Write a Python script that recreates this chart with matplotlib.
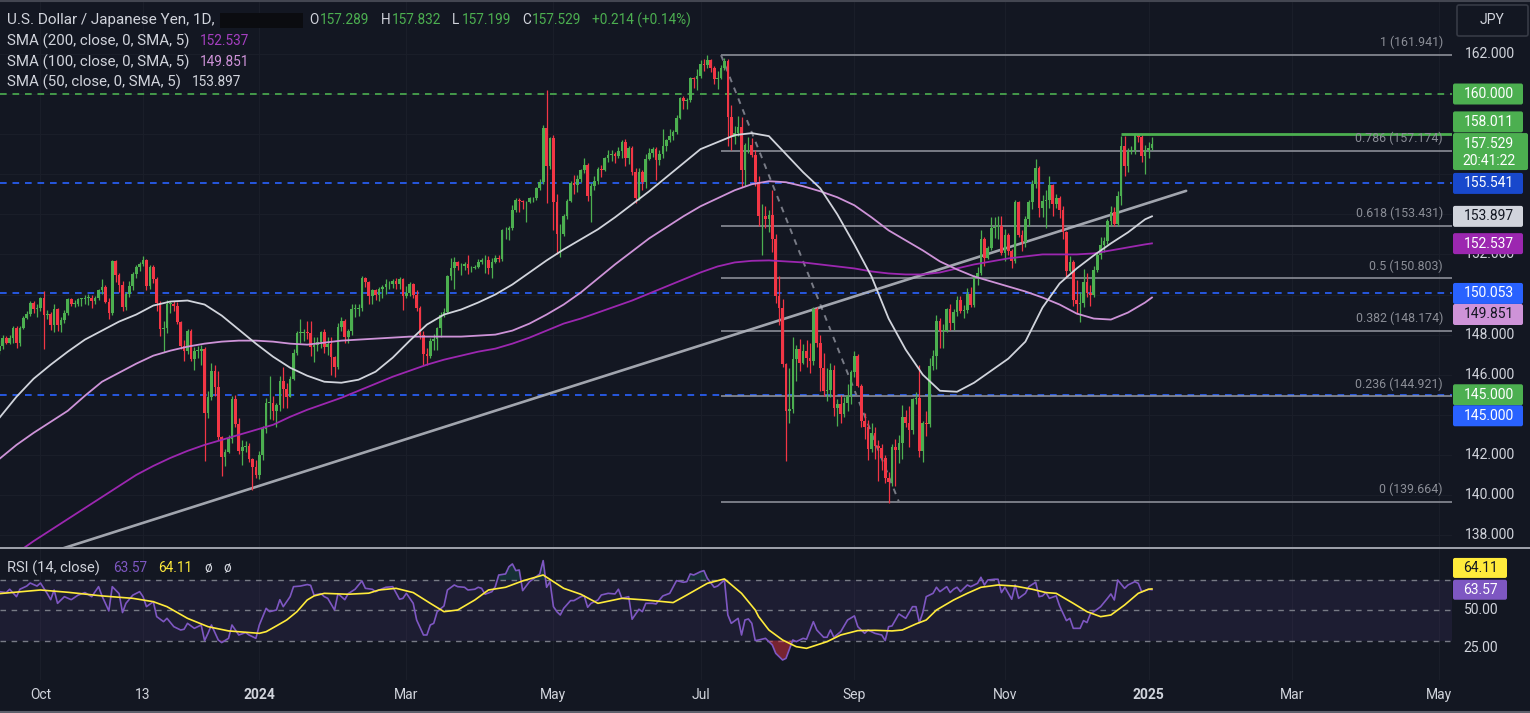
import numpy as np
import pandas as pd
import matplotlib
matplotlib.use("Agg")
import matplotlib.pyplot as plt
from matplotlib.patches import FancyBboxPatch, Rectangle
from matplotlib.transforms import IdentityTransform
from matplotlib.lines import Line2D

plt.rcParams['font.family'] = ['Roboto', 'DejaVu Sans']

W, H = 1530, 713
BG = '#131722'
UP = '#4caf50'
DN = '#f23645'
TXT = '#d1d4dc'

# ---------------- data (USD/JPY daily, 2023-09-14 .. 2025-01-03) ----------------
first_open = 147.20
closes = [
    147.45, 147.85,
    147.60, 147.85, 148.35, 147.60, 148.35,
    148.85, 149.05, 149.60, 149.30, 149.35,
    149.85, 149.00, 149.05, 148.50, 149.30,
    148.50, 148.75, 149.10, 149.80, 149.55,
    149.55, 149.80, 149.80, 149.85, 149.85,
    149.70, 149.85, 150.20, 150.35, 149.65,
    149.10, 151.65, 150.95, 150.45, 149.40,
    150.05, 150.40, 151.00, 151.35, 151.50,
    151.70, 150.40, 151.35, 150.75, 149.60,
    148.30, 148.35, 149.55, 149.55, 149.45,
    148.65, 147.45, 147.20, 148.20, 146.80,
    147.20, 147.20, 147.30, 144.10, 144.90,
    146.20, 145.40, 142.90, 141.90, 142.15,
    142.80, 144.80, 143.55, 142.20, 142.40,
    142.45, 141.80, 141.40, 141.00,
    142.00, 143.30, 144.60, 144.60,
    144.20, 144.50, 145.70, 145.30, 144.90,
    145.80, 147.10, 148.10, 148.10, 148.15,
    148.10, 147.40, 147.50, 147.65, 148.15,
    147.40, 147.55, 146.90, 146.40, 148.40,
    148.70, 147.90, 148.20, 149.30, 149.30,
    149.35, 150.80, 150.60, 149.95, 150.20,
    150.00, 150.25, 150.35, 150.50, 150.50,
    150.65, 150.50, 150.75, 149.95, 150.10,
    150.50, 150.00, 149.35, 148.00, 147.05,
    146.95, 147.70, 147.80, 148.35, 149.00,
    149.15, 150.90, 151.30, 151.60, 151.40,
    151.40, 151.50, 151.30, 151.30, 151.35,
    151.60, 151.70, 151.70, 151.30, 151.60,
    151.80, 151.75, 153.20, 153.20, 153.30,
    154.20, 154.70, 154.65, 154.60, 154.60,
    154.80, 154.80, 155.30, 155.60, 158.30,
    156.40, 157.80, 154.60, 153.00, 153.00,
    153.90, 154.65, 155.55, 155.45, 155.75,
    156.20, 156.45, 154.90, 155.40, 155.65,
    156.25, 156.20, 156.80, 156.95, 157.00,
    156.90, 157.15, 157.60, 156.80, 157.30,
    156.10, 154.80, 156.10, 155.60, 156.75,
    157.05, 157.25, 156.70, 157.00, 157.40,
    157.70, 157.90, 158.10, 158.80, 159.80,
    159.65, 159.70, 160.80, 160.75, 160.90,
    161.50, 161.45, 161.70, 161.30, 160.75,
    160.80, 161.30, 161.65, 158.85, 157.85,
    158.05, 158.35, 156.20, 157.45, 157.45,
    156.95, 155.60, 153.90, 153.90, 153.75,
    153.95, 152.75, 149.95, 149.35, 146.55,
    144.20, 144.30, 146.80, 147.30, 146.60,
    147.20, 146.85, 146.70, 149.30, 147.60,
    146.35, 145.20, 145.25, 146.25, 144.35,
    144.55, 144.05, 144.60, 144.95, 146.15,
    146.95, 145.45, 143.70, 143.40, 142.30,
    143.10, 142.45, 142.35, 141.85, 140.85,
    140.65, 142.40, 142.25, 142.60, 143.90,
    143.60, 143.25, 144.80, 144.85, 142.20,
    143.60, 143.55, 146.45, 146.95, 148.70,
    148.20, 148.20, 149.30, 148.60, 149.15,
    149.75, 149.20, 149.25, 150.05, 149.50,
    150.85, 151.05, 152.75, 151.80, 152.30,
    153.30, 153.35, 153.40, 152.05, 152.95,
    152.15, 151.65, 154.60, 152.95, 152.60,
    153.75, 154.60, 155.50, 156.30, 154.30,
    154.65, 154.70, 155.45, 154.50, 154.80,
    154.20, 153.10, 151.15, 151.60, 149.75,
    149.55, 149.60, 150.60, 150.10, 150.00,
    151.20, 151.95, 152.45, 152.65, 153.65,
    154.10, 153.50, 154.90, 157.40, 156.40,
    157.15, 157.20, 157.95, 157.85,
    156.90, 157.20, 157.315, 157.529,
]
highs = [
    147.75, 148.00,
    147.95, 148.00, 148.45, 148.45, 148.45,
    148.95, 149.20, 149.70, 149.70, 149.55,
    149.90, 150.16, 149.25, 149.15, 149.55,
    149.35, 148.90, 149.25, 149.85, 149.85,
    149.75, 149.85, 149.85, 150.00, 150.05,
    150.00, 149.95, 150.25, 150.75, 150.45,
    149.85, 151.70, 151.70, 151.05, 150.65,
    150.15, 150.65, 151.10, 151.45, 151.60,
    151.90, 151.75, 151.45, 151.45, 150.85,
    149.70, 148.70, 149.75, 149.70, 149.70,
    149.65, 148.70, 147.75, 148.30, 148.30,
    147.40, 147.45, 147.50, 147.40, 145.20,
    146.60, 146.50, 146.20, 142.95, 142.30,
    143.00, 144.95, 145.00, 143.85, 142.75,
    142.70, 142.60, 141.85, 141.75,
    142.20, 143.45, 144.85, 145.95,
    144.95, 144.60, 145.95, 146.40, 145.60,
    145.95, 147.30, 148.20, 148.80, 148.30,
    148.70, 148.70, 147.90, 147.90, 148.20,
    148.30, 147.90, 147.90, 146.95, 148.60,
    148.90, 148.80, 148.30, 149.55, 149.55,
    149.55, 150.90, 150.85, 150.65, 150.25,
    150.25, 150.35, 150.45, 150.75, 150.65,
    150.75, 150.80, 150.85, 150.80, 150.40,
    150.60, 150.55, 150.20, 149.45, 148.20,
    147.35, 147.85, 148.05, 148.40, 149.15,
    149.35, 150.95, 151.80, 151.85, 151.65,
    151.55, 151.60, 151.95, 151.40, 151.45,
    151.75, 151.80, 151.95, 151.90, 151.80,
    151.95, 151.95, 153.25, 153.35, 153.40,
    154.45, 154.80, 154.80, 154.70, 154.65,
    154.85, 154.85, 155.35, 155.75, 158.45,
    160.20, 157.85, 157.95, 155.00, 153.50,
    154.00, 154.75, 155.65, 155.95, 155.95,
    156.25, 156.80, 156.55, 155.55, 155.90,
    156.35, 156.45, 156.85, 157.20, 157.20,
    157.10, 157.35, 157.70, 157.75, 157.40,
    157.40, 156.30, 156.30, 156.20, 157.00,
    157.30, 157.35, 157.35, 157.20, 158.25,
    157.75, 158.25, 158.20, 158.95, 159.85,
    159.90, 159.80, 160.85, 160.85, 161.25,
    161.70, 161.75, 161.95, 161.75, 161.40,
    161.15, 161.45, 161.80, 161.75, 159.45,
    158.40, 158.90, 158.85, 157.55, 157.85,
    157.80, 157.20, 155.90, 154.50, 154.40,
    154.20, 155.20, 153.00, 150.90, 149.80,
    146.60, 146.35, 147.90, 147.50, 147.80,
    147.55, 147.75, 147.60, 149.40, 149.40,
    148.00, 147.10, 146.35, 146.60, 146.50,
    144.80, 145.00, 144.90, 145.55, 146.25,
    147.20, 147.05, 145.55, 144.10, 143.75,
    143.60, 143.40, 142.75, 142.55, 142.00,
    141.15, 142.55, 142.80, 143.00, 144.50,
    144.25, 144.45, 144.85, 145.15, 146.50,
    143.70, 144.20, 146.85, 147.25, 149.00,
    148.85, 148.55, 149.35, 149.55, 149.30,
    149.95, 149.95, 149.50, 150.30, 150.35,
    150.95, 151.35, 153.20, 152.85, 152.40,
    153.85, 153.85, 153.90, 153.90, 153.25,
    153.05, 152.25, 154.70, 154.65, 153.20,
    153.90, 154.70, 155.70, 156.75, 156.40,
    154.95, 155.20, 155.90, 155.50, 155.00,
    154.90, 154.40, 153.15, 151.90, 151.70,
    150.70, 150.15, 151.25, 151.05, 150.45,
    151.40, 152.05, 152.85, 152.85, 153.75,
    154.40, 154.35, 155.15, 157.90, 157.90,
    157.30, 157.40, 158.08, 158.00,
    158.00, 157.45, 157.60, 157.832,
]
lows = [
    147.05, 147.30,
    147.55, 147.55, 147.60, 147.35, 147.45,
    148.30, 148.80, 148.95, 149.10, 148.90,
    149.20, 147.30, 148.80, 148.25, 148.15,
    148.20, 148.15, 148.60, 149.00, 149.45,
    149.40, 149.45, 149.45, 149.55, 149.50,
    149.35, 149.55, 149.75, 150.05, 149.60,
    148.80, 149.00, 150.60, 150.15, 149.20,
    149.25, 149.90, 150.20, 150.80, 151.15,
    151.40, 150.20, 150.25, 150.55, 149.20,
    147.95, 147.15, 148.10, 149.10, 149.20,
    148.55, 147.30, 146.70, 147.05, 146.70,
    146.25, 146.85, 146.50, 141.70, 143.85,
    144.75, 144.95, 142.75, 140.95, 141.45,
    142.10, 142.60, 143.40, 142.05, 141.50,
    142.15, 141.65, 140.25, 140.85,
    140.80, 141.75, 143.10, 143.80,
    143.75, 143.40, 144.20, 144.35, 144.35,
    144.90, 145.75, 147.00, 147.60, 147.70,
    147.80, 146.95, 146.65, 147.20, 147.35,
    147.10, 147.00, 146.00, 145.90, 146.30,
    148.20, 147.60, 147.60, 148.00, 148.90,
    148.95, 149.20, 150.35, 149.55, 149.55,
    149.75, 149.70, 149.85, 150.05, 150.25,
    150.30, 150.25, 150.25, 149.25, 149.85,
    149.95, 149.85, 149.20, 147.80, 146.50,
    146.50, 146.85, 147.25, 147.25, 147.90,
    148.90, 149.10, 150.70, 150.25, 151.20,
    150.95, 151.20, 151.00, 151.10, 151.25,
    151.30, 151.50, 151.05, 151.00, 150.80,
    151.55, 151.60, 151.65, 152.75, 152.70,
    153.20, 154.10, 154.10, 154.25, 153.60,
    154.55, 154.60, 154.70, 155.20, 155.50,
    154.55, 156.25, 153.20, 152.00, 151.86,
    152.90, 153.75, 154.60, 155.00, 155.10,
    155.60, 156.05, 154.65, 153.60, 155.20,
    155.50, 155.85, 156.15, 156.60, 156.65,
    156.55, 156.80, 156.80, 156.40, 156.50,
    155.95, 154.55, 154.70, 155.20, 155.30,
    156.70, 156.85, 155.70, 156.45, 156.80,
    157.15, 157.60, 157.70, 158.00, 158.75,
    159.25, 159.25, 159.60, 160.30, 160.20,
    160.80, 161.15, 161.30, 161.10, 160.50,
    160.25, 160.75, 161.20, 157.40, 157.20,
    157.50, 157.90, 155.35, 155.40, 157.05,
    156.85, 155.40, 153.40, 151.95, 153.30,
    153.10, 152.10, 149.60, 148.50, 146.40,
    141.70, 143.60, 144.10, 145.70, 146.20,
    146.55, 146.40, 146.10, 146.50, 147.40,
    145.20, 144.95, 144.70, 144.90, 143.95,
    143.45, 143.60, 143.90, 144.20, 144.55,
    145.90, 145.40, 143.40, 142.80, 141.75,
    142.15, 141.80, 140.70, 141.25, 140.60,
    139.58, 140.45, 140.45, 141.60, 141.80,
    143.40, 142.40, 143.05, 144.55, 141.90,
    141.65, 142.95, 143.40, 146.25, 146.30,
    147.35, 147.35, 148.15, 148.25, 148.25,
    148.95, 149.10, 148.85, 149.10, 149.40,
    149.40, 150.45, 150.95, 151.40, 151.75,
    152.20, 152.80, 152.75, 151.95, 151.65,
    151.95, 151.30, 151.55, 152.85, 152.15,
    152.35, 153.40, 154.25, 155.30, 153.85,
    153.85, 153.30, 154.30, 153.90, 154.30,
    153.80, 152.75, 150.80, 151.10, 149.45,
    149.05, 148.65, 149.40, 149.90, 149.45,
    149.90, 151.10, 151.75, 152.10, 152.50,
    153.40, 153.40, 153.40, 154.45, 155.90,
    156.10, 157.00, 157.00, 157.60,
    156.60, 156.00, 156.80, 157.199,
]

# moving averages, every 5 bars
sma_bar = [0, 5, 10, 15, 20, 25, 30, 35, 40, 45, 50, 55, 60, 65, 70, 75, 80, 85, 90, 95,
           100, 105, 110, 115, 120, 125, 130, 135, 140, 145, 150, 155, 160, 165, 170, 175,
           180, 185, 190, 195, 200, 205, 210, 215, 220, 225, 230, 235, 240, 245, 250, 255,
           260, 265, 270, 275, 280, 285, 290, 295, 300, 305, 310, 315, 320, 325, 330, 335,
           337]
sma50 = [143.85, 144.9, 145.8, 146.5, 147.15, 147.75, 148.2, 148.65, 149.0, 149.45,
         149.65, 149.7, 149.5, 148.95, 148.25, 147.55, 146.9, 146.35, 145.95, 145.65,
         145.6, 145.75, 146.15, 146.85, 147.7, 148.5, 149.0, 149.25, 149.6, 150.0,
         150.5, 151.1, 151.7, 152.25, 152.75, 153.25, 153.85, 154.5, 155.15, 155.85,
         156.55, 157.25, 157.6, 157.95, 158.05, 157.9, 157.0, 156.1, 155.3, 154.0,
         152.5, 150.9, 148.8, 147.25, 146.0, 145.2, 145.15, 145.6, 146.2, 146.8,
         147.65, 149.35, 150.55, 151.3, 151.95, 152.55, 153.1, 153.75,
         153.9]
sma100 = [141.8, 142.5, 143.1, 143.65, 144.2, 144.95, 145.65, 146.1, 146.55, 146.95,
          147.2, 147.4, 147.55, 147.65, 147.7, 147.7, 147.65, 147.55, 147.5, 147.6,
          147.7, 147.75, 147.8, 147.85, 147.9, 147.9, 147.9, 147.9, 147.95, 148.0,
          148.2, 148.55, 149.0, 149.5, 150.1, 150.8, 151.5, 152.15, 152.8, 153.35,
          153.9, 154.4, 154.8, 155.2, 155.5, 155.65, 155.6, 155.4, 155.15, 154.85,
          154.45, 153.85, 153.2, 152.7, 152.2, 151.65, 151.25, 150.9, 150.65, 150.4,
          150.15, 149.85, 149.5, 149.05, 148.8, 148.75, 149.1, 149.6,
          149.85]
sma200 = [136.5, 137.1, 137.7, 138.25, 138.8, 139.35, 139.9, 140.45, 141.0, 141.45,
          141.85, 142.2, 142.5, 142.75, 143.0, 143.25, 143.5, 143.9, 144.25, 144.55,
          144.85, 145.2, 145.55, 145.9, 146.2, 146.5, 146.75, 146.95, 147.15, 147.3,
          147.55, 147.85, 148.2, 148.55, 148.8, 149.1, 149.4, 149.7, 150.05, 150.4,
          150.75, 151.1, 151.4, 151.6, 151.68, 151.7, 151.65, 151.6, 151.5, 151.4,
          151.3, 151.15, 151.05, 151.0, 151.0, 151.1, 151.3, 151.5, 151.65, 151.8,
          151.9, 152.0, 152.0, 152.0, 152.05, 152.2, 152.35, 152.5,
          152.55]

rsi_points = [
    (0, 62.3), (2, 61.7), (3, 63.9), (5, 59), (6, 63.9), (8, 66), (9, 68), (11, 66), (12, 68),
    (14, 61), (15, 57), (16, 63.4), (17, 54.6), (19, 59), (21, 57), (23, 60), (25, 61.7),
    (27, 59), (29, 65.6), (30, 59.5), (32, 49.6), (33, 65.6), (35, 61), (36, 48.5), (37, 54.6),
    (39, 60), (41, 62.3), (42, 59), (43, 52.4), (45, 55.7), (46, 45.8), (48, 42.5), (49, 44.7),
    (51, 39.2), (53, 37), (54, 37.5), (55, 41.4), (57, 38.1), (59, 40.3), (60, 30), (61, 34.8),
    (62, 40.3), (64, 30.4), (65, 28.7), (67, 31.5), (68, 40.3), (69, 37), (70, 33.7), (72, 35.3),
    (73, 33.7), (75, 31.5), (76, 40.3), (78, 51.3), (79, 49.1), (81, 50.2), (82, 57), (83, 52.4),
    (85, 59), (86, 65.6), (88, 66), (90, 67), (91, 66.5), (92, 60), (94, 61), (95, 59),
    (96, 57.9), (98, 50.2), (99, 61), (101, 57), (102, 61), (104, 63.9), (106, 69.4),
    (107, 64.5), (109, 63.9), (110, 62.3),
    (111, 63.4), (113, 65.2), (115, 65.6), (117, 57.3), (118, 57.9), (119, 61.2), (121, 54.6),
    (122, 43.6), (124, 33.7), (125, 33.7), (126, 40.3), (127, 41.4), (128, 49.1), (130, 52.9),
    (131, 63.4), (133, 66.7), (134, 65.6), (136, 65.2), (137, 63.4), (139, 63.9), (140, 65.2),
    (141, 64.5), (142, 60.6), (144, 62.3), (145, 65.6), (146, 73.3), (148, 74), (149, 78.8),
    (150, 80.6), (151, 76.2), (152, 76.6), (153, 63), (155, 68.9), (156, 70.5), (158, 74),
    (159, 82.8), (160, 65.2), (161, 68.9), (162, 52.4), (163, 49.1), (164, 46.9), (165, 51.3),
    (167, 56.4), (168, 56.4), (170, 59), (171, 59.5), (172, 52), (173, 54.6), (175, 56.8),
    (176, 60.1), (178, 61.2), (180, 60.8), (181, 63.9), (182, 57.9), (184, 59), (185, 44.1),
    (187, 50.7), (188, 49.1), (189, 54.6), (191, 54.6), (192, 54.2), (194, 59.5), (196, 61.2),
    (198, 69.6), (200, 68.5), (201, 68.9), (202, 74), (203, 73.3), (205, 75.5), (206, 76.2),
    (207, 71.1), (209, 65.2), (210, 66), (212, 70), (213, 46.9), (214, 41.4), (216, 44.7),
    (217, 33.7), (218, 43.6), (219, 44.3), (220, 41.4), (221, 30),
    (222, 30.4), (224, 31.5), (226, 27.1), (227, 21.6), (229, 17.2), (230, 18.3), (232, 30.4),
    (233, 29.3), (235, 31.5), (236, 30.9), (238, 42.5), (239, 37), (241, 32.2), (242, 32.2),
    (243, 37), (244, 32.2), (246, 35.9), (248, 43.6), (250, 46.3), (251, 39.2), (253, 34.8),
    (254, 37), (256, 34.8), (258, 33.7), (259, 30), (260, 39.2), (261, 39.7), (263, 47.6),
    (265, 44.7), (267, 52.4), (268, 52.4), (269, 41.9), (270, 48.5), (271, 59), (273, 61.2),
    (274, 65.2), (275, 62.3), (277, 65.6), (278, 61.7), (279, 63.9), (280, 65.2), (281, 62.3),
    (283, 66.7), (284, 65.6), (286, 67.8), (287, 71.8), (288, 66.7), (289, 70), (291, 70.5),
    (292, 70.5), (293, 61.7), (294, 65.2), (296, 57.3), (297, 66.7), (298, 57.9), (300, 61.2),
    (301, 65.6), (303, 68.5), (304, 59), (305, 59.5), (306, 61.7), (307, 57.9), (309, 59.5),
    (310, 52.9), (312, 43.2), (313, 44.7), (314, 38.1), (316, 38.1), (317, 43.2), (318, 41.9),
    (319, 47.6), (321, 50.7), (322, 52.4), (324, 57.9), (325, 60.8), (326, 56.8), (327, 70),
    (329, 64.5), (330, 66.7), (332, 68.9), (333, 67.8), (334, 62.3), (336, 63.9), (337, 63.57),
]
rsi_ma_points = [
    (0, 61), (12, 63.4), (20, 61.9), (30, 59.5), (39, 57.9), (45, 55.7), (49, 52.4), (55, 44.7),
    (61, 39.2), (67, 36.4), (76, 34.8), (78, 35.9), (81, 39.7), (84, 43.6), (87, 49.1),
    (90, 56.8), (92, 59.5), (95, 61.2), (102, 60.6), (108, 61.3),
    (111, 63.4), (116, 64.5), (121, 61.7), (126, 54.6), (130, 49.1), (134, 50.2), (139, 56.8),
    (143, 63.4), (148, 65.2), (153, 69.4), (159, 73.3), (165, 64.5), (170, 60.6), (175, 54.6),
    (182, 57.9), (189, 56.8), (197, 55.1), (201, 60.1), (207, 67.8), (212, 70.7), (217, 61.2),
    (221, 50.2),
    (222, 45.8), (225, 37), (229, 30.4), (233, 26), (236, 24.9), (242, 29.3), (246, 33.7),
    (251, 36.6), (256, 36.8), (261, 36.4), (264, 37), (268, 41), (271, 43.6), (274, 50.2),
    (279, 56.8), (283, 61.2), (287, 65.2), (292, 66.7), (297, 66), (302, 63.9), (306, 61.7),
    (309, 61.2), (314, 54.6), (318, 49.1), (322, 45.8), (325, 46.9), (329, 53.5), (333, 61.2),
    (336, 63.9), (337, 64.11),
]

level_lines = [(160.000, UP), (155.541, '#2962ff'), (150.053, '#2962ff'), (145.000, '#2962ff')]
fib_ratios = ['1', '0.786', '0.618', '0.5', '0.382', '0.236', '0']
fib_levels = [161.941, 157.174, 153.431, 150.803, 148.174, 144.921, 139.664]
fib_start, fib_end = '2024-07-09', '2024-09-19'
trend_dates = ['2023-09-14', '2025-01-17']
trend_vals = [136.33, 155.17]
resist_date, resist_val = '2024-12-19', 158.011
price_ticks = [138, 140, 142, 146, 148, 152, 162]
rsi_ticks = [50, 25]

time_ticks = [('2023-10-02', 'Oct'), ('2023-11-13', '13'), ('2024-01-02', '2024'),
              ('2024-03-01', 'Mar'), ('2024-05-01', 'May'), ('2024-07-01', 'Jul'),
              ('2024-09-02', 'Sep'), ('2024-11-01', 'Nov'), ('2025-01-02', '2025'),
              ('2025-03-03', 'Mar'), ('2025-05-01', 'May')]

# ---------------- calendar ----------------
cal = pd.bdate_range('2023-09-14', '2025-06-30')
cal = cal[~(((cal.month == 12) & (cal.day == 25)) | ((cal.month == 1) & (cal.day == 1)))]


def bar(d):
    return int(np.searchsorted(cal.values, np.datetime64(pd.Timestamp(d))))


c = np.array(closes)
hi = np.array(highs)
lo = np.array(lows)
o = np.concatenate([[first_open], c[:-1]])
idx = np.arange(len(c))

# ---------------- figure ----------------
fig = plt.figure(figsize=(W / 100, H / 100), dpi=100, facecolor=BG)


def fx(px):
    return px / W


def fy(py):
    return 1 - py / H


PLOT_R = 1452
XL = (0.6 / 3.42, (PLOT_R + 0.6) / 3.42)
ax = fig.add_axes([0, fy(547), PLOT_R / W, (547 - 2) / H])
axr = fig.add_axes([0, fy(680), PLOT_R / W, (680 - 549) / H])
for a in (ax, axr):
    a.set_facecolor(BG)
    a.set_xlim(*XL)
    for s in a.spines.values():
        s.set_visible(False)
    a.set_xticks([])
    a.set_yticks([])
ax.set_ylim(137.407, 164.589)
axr.set_ylim(4.0, 90.46)

# faint grid
for p in range(138, 164, 2):
    ax.axhline(p, color='#1a1e29', lw=0.8, zorder=0)
for d, _ in time_ticks:
    ax.axvline(bar(d), color='#1a1e29', lw=0.8, zorder=0)
    axr.axvline(bar(d), color='#1a1e29', lw=0.8, zorder=0)

# horizontal levels
for val, colr in level_lines:
    ax.axhline(val, color=colr, lw=1.2, ls=(0, (4, 3.5)), zorder=1.5)

# fib retracement
fs_ = bar(fib_start)
ax.hlines(fib_levels, fs_, XL[1], color='#9598a1', lw=1.1, zorder=1.6)
ax.plot([fs_, bar(fib_end)], [fib_levels[0], fib_levels[-1]], color='#787b86',
        lw=1.4, ls=(0, (3, 3)), zorder=1.7)
for r, lv in zip(fib_ratios, fib_levels):
    ax.annotate(f'{r} ({lv:.3f})', xy=(XL[1], lv), xytext=(-6.5, 9),
                textcoords='offset points', ha='right', va='center',
                color='#8b8e97', fontsize=8.9, zorder=8)

# trend line
ax.plot([bar(d) for d in trend_dates], trend_vals, color='#b2b5be', lw=1.9,
        alpha=0.9, zorder=1.8, solid_capstyle='round')

# moving averages
ax.plot(sma_bar, sma200, color='#9c27b0', lw=1.3, zorder=5)
ax.plot(sma_bar, sma100, color='#ce93d8', lw=1.3, zorder=5)
ax.plot(sma_bar, sma50, color='#d1d4dc', lw=1.3, zorder=5)

# candles
col = np.where(c >= o, UP, DN)
ax.vlines(idx, lo, hi, colors=col, lw=0.9, zorder=3)
ax.bar(idx, np.maximum(np.abs(c - o), 0.03), bottom=np.minimum(o, c), width=0.78,
       color=col, lw=0, zorder=4)

# resistance line
ax.hlines(resist_val, bar(resist_date), XL[1], color=UP, lw=2.0, zorder=6)

# ---------------- RSI ----------------
rb = np.array([p[0] for p in rsi_points], dtype=float)
rv = np.array([p[1] for p in rsi_points])
mb = [p[0] for p in rsi_ma_points]
mv = [p[1] for p in rsi_ma_points]
axr.axhspan(30, 70, color='#7e57c2', alpha=0.1, lw=0, zorder=0.5)
for lev in (70, 50, 30):
    axr.axhline(lev, color='#787b86', lw=1, ls=(0, (4, 4)), zorder=1)
axr.fill_between(rb, 70, rv, where=rv > 70, interpolate=True, color='#26a69a', alpha=0.18, lw=0)
axr.fill_between(rb, 30, rv, where=rv < 30, interpolate=True, color='#f23645', alpha=0.45, lw=0)
axr.plot(rb, rv, color='#7e57c2', lw=1.2, zorder=3)
axr.plot(mb, mv, color='#ffeb3b', lw=1.2, zorder=4)

# ---------------- chrome ----------------
fig.add_artist(Line2D([0, 1], [fy(547.5), fy(547.5)], color='#b8bbc4', lw=1.2))
fig.add_artist(Line2D([0, 1], [fy(0.5), fy(0.5)], color='#434651', lw=1.5))
fig.add_artist(Line2D([0, 1], [fy(711.5), fy(711.5)], color='#5d606b', lw=1.5))

renderer = fig.canvas.get_renderer()


def ftext(x, y, s, color=TXT, size=10, ha='left', weight='normal', fit=None, z=7):
    t = fig.text(fx(x), fy(y), s, color=color, fontsize=size, ha=ha, va='center',
                 fontweight=weight, zorder=z)
    if fit is not None:
        w = t.get_window_extent(renderer).width
        t.set_fontsize(size * fit / w)
    return t


def pbox(x0, x1, ytop, ybot, fc, ec='none', lw=0, z=6):
    fig.add_artist(FancyBboxPatch((x0, H - ybot), x1 - x0, ybot - ytop,
                                  boxstyle='round,pad=0,rounding_size=2',
                                  transform=IdentityTransform(), fc=fc, ec=ec, lw=lw,
                                  zorder=z))


def ypix(a, v):
    return H - a.transData.transform((XL[0], v))[1]


def xpix(a, b):
    return a.transData.transform((b, 0))[0]


# header legend
ftext(7, 20, 'U.S. Dollar / Japanese Yen, 1D,', fit=209)
fig.add_artist(Rectangle((fx(220), fy(28)), fx(83), 15 / H, transform=fig.transFigure,
                         fc='#0b0c10', ec='none', zorder=6))
hdr = [(309, 'O', TXT), (320, '157.289', UP), (381, 'H', TXT), (392, '157.832', UP),
       (452, 'L', TXT), (462, '157.199', UP), (522, 'C', TXT), (532, '157.529', UP),
       (592, '+0.214 (+0.14%)', UP)]
for x, s, colr in hdr:
    ftext(x, 20, s, color=colr, size=9.8)
ftext(7, 41, 'SMA (200, close, 0, SMA, 5)', fit=182)
ftext(200, 41, '152.537', color='#a53fc0', size=9.8)
ftext(7, 62, 'SMA (100, close, 0, SMA, 5)', fit=182)
ftext(200, 62, '149.851', color='#ce93d8', size=9.8)
ftext(7, 82, 'SMA (50, close, 0, SMA, 5)', fit=174)
ftext(192, 82, '153.897', color=TXT, size=9.8)

ftext(7, 568, 'RSI (14, close)', fit=93)
ftext(113, 568, '63.57', color='#7e57c2', size=9.8)
ftext(158, 568, '64.11', color='#ffeb3b', size=9.8)
ftext(204, 568, 'ø', size=9.8)
ftext(223, 568, 'ø', size=9.8)

# JPY button
pbox(1457, 1528, 5, 36, BG, ec='#363a45', lw=1.2, z=6)
ftext(1492, 20.5, 'JPY', ha='center', size=10)

# right price scale
for p in price_ticks:
    ftext(1490, ypix(ax, p), f'{p}.000', ha='center', size=10, z=4)

tags = [(160.000, '160.000', UP, 'white', 0),
        (158.011, '158.011', UP, 'white', -12),
        (155.541, '155.541', '#1848cc', 'white', 0),
        (153.897, '153.897', '#d1d4dc', '#131722', 0),
        (152.537, '152.537', '#9c27b0', 'white', 0),
        (150.053, '150.053', '#2962ff', 'white', 0),
        (149.851, '149.851', '#ce93d8', '#131722', 17),
        (145.000, '145.000', UP, 'white', 0),
        (145.000, '145.000', '#2962ff', 'white', 21)]
for val, s, fc, tc, off in tags:
    yc = ypix(ax, val) + off
    pbox(1453, 1523, yc - 10.5, yc + 10.5, fc)
    ftext(1489, yc, s, color=tc, ha='center', size=10, z=8)

# last price tag with countdown
last = c[-1]
yc = ypix(ax, last)
pbox(1453, 1528, yc - 10.5, yc + 26.5, UP)
ftext(1489, yc, f'{last:.3f}', color='white', ha='center', size=10, z=8)
ftext(1489, yc + 17.5, '20:41:22', color='white', ha='center', size=10, z=8)

# RSI scale
for v in rsi_ticks:
    ftext(1481, ypix(axr, v), f'{v}.00', ha='center', size=10, z=4)
y64 = ypix(axr, mv[-1]) - 21
pbox(1453, 1507, y64 - 10, y64 + 10, '#ffeb3b')
ftext(1480, y64, f'{mv[-1]:.2f}', color='#131722', ha='center', size=10, z=8)
y63 = ypix(axr, rv[-1])
pbox(1453, 1507, y63 - 10, y63 + 10, '#7e57c2')
ftext(1480, y63, f'{rv[-1]:.2f}', color='white', ha='center', size=10, z=8)

# time axis
for d, s in time_ticks:
    ftext(xpix(axr, bar(d)), 695, s, ha='center', size=10,
          weight='bold' if s.isdigit() and len(s) == 4 else 'normal')

fig.savefig('out.png', dpi=100, facecolor=BG)
